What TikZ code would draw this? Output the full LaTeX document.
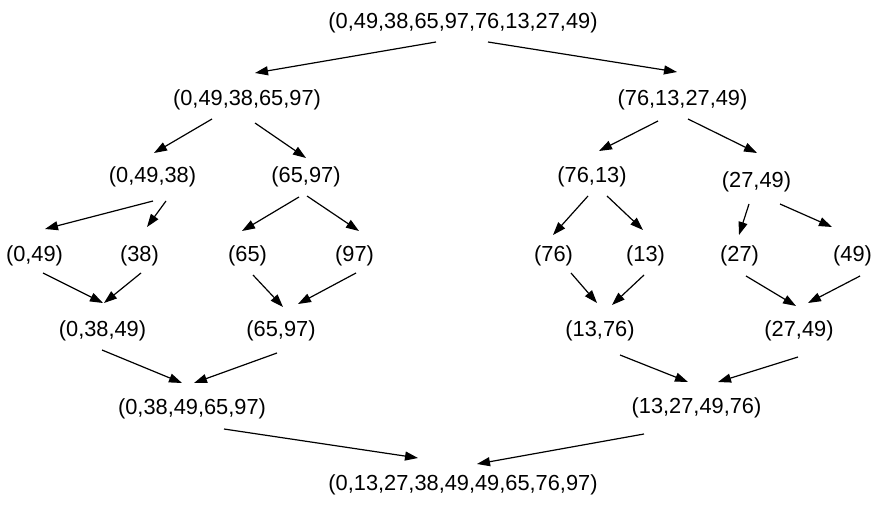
\documentclass[tikz,border=0pt]{standalone}
\usepackage{fontspec}
\setmainfont{Liberation Sans}
\usetikzlibrary{arrows.meta}
\tikzset{
  lbl/.style={inner sep=0pt, font=\fontsize{21.8}{26}\selectfont},
  arr/.style={line width=1.2pt, -{Triangle[length=13pt,width=9pt]}}
}
\newcommand{\conn}[6]{\draw[arr] ([shift={(#2,#3)}]#1.center) -- ([shift={(#5,#6)}]#4.center);}
\begin{document}
\begin{tikzpicture}[x=1pt,y=-1pt]
\useasboundingbox[fill=white] (0,0) rectangle (880,505);
% nodes
\node[lbl] (root) at (463,23) {(0,49,38,65,97,76,13,27,49)};
\node[lbl] (L1) at (247,100) {(0,49,38,65,97)};
\node[lbl] (R1) at (682.5,100) {(76,13,27,49)};
\node[lbl] (L2a) at (152.5,177) {(0,49,38)};
\node[lbl] (L2b) at (306,177) {(65,97)};
\node[lbl] (R2a) at (592,177) {(76,13)};
\node[lbl] (R2b) at (756.5,182) {(27,49)};
\node[lbl] (L3a) at (34.5,256) {(0,49)};
\node[lbl] (L3b) at (139.5,256) {(38)};
\node[lbl] (L3c) at (247.5,256) {(65)};
\node[lbl] (L3d) at (354.5,256) {(97)};
\node[lbl] (R3a) at (553.5,256) {(76)};
\node[lbl] (R3b) at (645.5,256) {(13)};
\node[lbl] (R3c) at (739.5,256) {(27)};
\node[lbl] (R3d) at (852.5,256) {(49)};
\node[lbl] (L4a) at (102.5,331) {(0,38,49)};
\node[lbl] (L4b) at (281,331) {(65,97)};
\node[lbl] (R4a) at (600,331) {(13,76)};
\node[lbl] (R4b) at (799,331) {(27,49)};
\node[lbl] (L5) at (192,409) {(0,38,49,65,97)};
\node[lbl] (R5) at (696.5,408) {(13,27,49,76)};
\node[lbl] (B) at (463,485) {(0,13,27,38,49,49,65,76,97)};
% connectors
\conn{root}{-27}{19}{L1}{8}{-27}
\conn{root}{25}{19}{R1}{-5.5}{-28}
\conn{L1}{-35}{19}{L2a}{1.5}{-24}
\conn{L1}{8}{23}{L2b}{0}{-19}
\conn{R1}{-24.5}{21}{R2a}{7}{-26}
\conn{R1}{5.5}{19}{R2b}{0.5}{-29}
\conn{L2a}{0.5}{24}{L3a}{10.5}{-27}
\conn{L2a}{13.5}{24}{L3b}{7.5}{-29}
\conn{L2b}{-7}{20}{L3c}{-5.5}{-25}
\conn{L2b}{1}{19}{L3d}{4.5}{-25}
\conn{R2a}{-4}{19}{R3a}{-0.5}{-21}
\conn{R2a}{15}{19}{R3b}{-2.5}{-26}
\conn{R2b}{-7.5}{22}{R3c}{-0.5}{-21}
\conn{R2b}{23.5}{22}{R3d}{-20.5}{-29}
\conn{L3a}{8.5}{17}{L4a}{0.5}{-28}
\conn{L3b}{1.5}{17}{L4a}{1.5}{-28}
\conn{L3c}{5.5}{19}{L4b}{2}{-24}
\conn{L3d}{1.5}{17}{L4b}{17}{-27}
\conn{R3a}{17.5}{17}{R4a}{-3}{-28}
\conn{R3b}{-1.5}{19}{R4a}{12}{-26}
\conn{R3c}{6.5}{20}{R4b}{-3}{-25}
\conn{R3d}{7.5}{20}{R4b}{9}{-28}
\conn{L4a}{-0.5}{19}{L5}{-10}{-26}
\conn{L4b}{-4}{22}{L5}{2}{-26}
\conn{R4a}{20}{24}{R5}{-8.5}{-26}
\conn{R4b}{-1}{26}{R5}{21.5}{-26}
\conn{L5}{32}{20}{B}{-45}{-27}
\conn{R5}{-52.5}{26}{B}{14}{-21}
\end{tikzpicture}
\end{document}
